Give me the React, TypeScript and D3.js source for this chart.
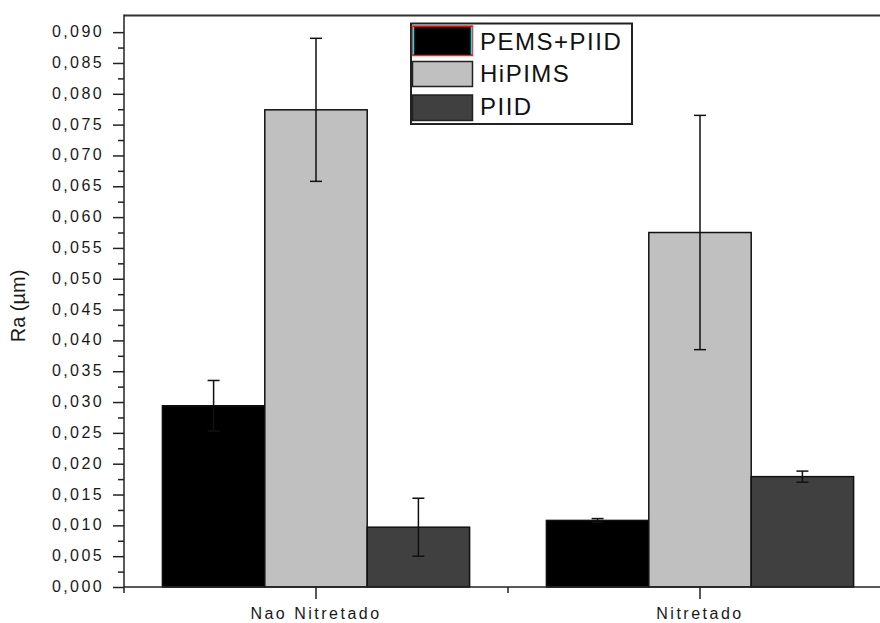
import React, { useEffect, useRef } from 'react'
import * as d3 from 'd3'

const categories = ['Nao Nitretado', 'Nitretado']
const seriesNames = ['PEMS+PIID', 'HiPIMS', 'PIID']
const pemsPiid = [0.0294, 0.0108]
const pemsPiidErr = [0.0041, 0.0003]
const hipims = [0.0774, 0.0575]
const hipimsErr = [0.0116, 0.019]
const piid = [0.0097, 0.0179]
const piidErr = [0.0047, 0.0009]
const yTicks = [0, 0.005, 0.01, 0.015, 0.02, 0.025, 0.03, 0.035, 0.04, 0.045, 0.05, 0.055, 0.06, 0.065, 0.07, 0.075, 0.08, 0.085, 0.09]

const fills = ['#000000', '#c0c0c0', '#404040']

export default function App() {
  const ref = useRef<SVGSVGElement | null>(null)

  useEffect(() => {
    document.body.style.margin = '0'
    const el = ref.current
    if (!el) return
    const svg = d3.select(el)
    svg.selectAll('*').remove()

    const W = 880, H = 623
    const left = 124, top = 15.5, bottom = 587, right = 892
    const font = 'Arial, "Liberation Sans", sans-serif'

    const x = d3.scaleBand().domain(categories).range([left, right]).paddingInner(0.2).paddingOuter(0.1)
    const xs = d3.scaleBand().domain(seriesNames).range([0, x.bandwidth()])
    const y = d3.scaleLinear().domain([0, 0.0927]).range([bottom, top])

    const values = [pemsPiid, hipims, piid]
    const errs = [pemsPiidErr, hipimsErr, piidErr]
    const rows = seriesNames.flatMap((s, si) => categories.map((c, ci) => ({ s, si, c, v: values[si][ci], e: errs[si][ci] })))

    const g = svg.append('g')
    g.selectAll('rect.bar').data(rows).enter().append('rect')
      .attr('x', d => (x(d.c) as number) + (xs(d.s) as number))
      .attr('y', d => y(d.v))
      .attr('width', xs.bandwidth())
      .attr('height', d => y(0) - y(d.v))
      .attr('fill', d => fills[d.si])
      .attr('stroke', '#111').attr('stroke-width', 1.5)

    // error bars
    const eb = g.selectAll('g.err').data(rows).enter().append('g')
    const cx = (d: any) => (x(d.c) as number) + (xs(d.s) as number) + xs.bandwidth() / 2
    eb.append('line').attr('x1', cx).attr('x2', cx)
      .attr('y1', d => y(d.v + d.e)).attr('y2', d => y(d.v - d.e))
      .attr('stroke', '#111').attr('stroke-width', 1.5)
    eb.append('line').attr('x1', d => cx(d) - 6).attr('x2', d => cx(d) + 6)
      .attr('y1', d => y(d.v + d.e)).attr('y2', d => y(d.v + d.e))
      .attr('stroke', '#111').attr('stroke-width', 1.5)
    eb.append('line').attr('x1', d => cx(d) - 6).attr('x2', d => cx(d) + 6)
      .attr('y1', d => y(d.v - d.e)).attr('y2', d => y(d.v - d.e))
      .attr('stroke', '#111').attr('stroke-width', 1.5)

    // top frame line
    svg.append('line').attr('x1', left).attr('x2', W).attr('y1', top).attr('y2', top)
      .attr('stroke', '#333').attr('stroke-width', 2)

    // y axis
    const fmt = (v: number) => d3.format('.3f')(v).replace('.', ',')
    const ay = svg.append('g').attr('transform', `translate(${left},0)`)
      .call(d3.axisLeft(y).tickValues(yTicks).tickFormat(fmt as any).tickSize(11).tickSizeOuter(0))
    ay.select('.domain').remove()
    ay.selectAll('line').attr('stroke', '#222').attr('stroke-width', 1.5)
    ay.selectAll('text').attr('font-family', font).attr('font-size', 16).attr('fill', '#1a1a1a')
      .attr('letter-spacing', 2.4).attr('x', -20).attr('dy', '0.28em')
    const minorY = yTicks.slice(0, -1).map(t => t + 0.0025)
    const ayMinor = svg.append('g').attr('transform', `translate(${left},0)`)
      .call(d3.axisLeft(y).tickValues(minorY).tickFormat(() => '').tickSize(6).tickSizeOuter(0))
    ayMinor.select('.domain').remove()
    ayMinor.selectAll('line').attr('stroke', '#222').attr('stroke-width', 1.5)
    svg.append('line').attr('x1', left).attr('x2', left).attr('y1', top - 1).attr('y2', bottom + 6)
      .attr('stroke', '#222').attr('stroke-width', 1.5)

    // x axis
    const ax = svg.append('g').attr('transform', `translate(0,${bottom})`)
      .call(d3.axisBottom(x).tickSize(12).tickSizeOuter(0))
    ax.select('.domain').remove()
    ax.selectAll('line').attr('stroke', '#222').attr('stroke-width', 1.5)
    ax.selectAll('text').attr('font-family', font).attr('font-size', 16).attr('fill', '#1a1a1a')
      .attr('letter-spacing', 2.5).attr('y', 21).attr('dy', '0.71em')
    const mid = ((x(categories[0]) as number) + (x(categories[1]) as number) + x.bandwidth()) / 2
    svg.append('line').attr('x1', mid).attr('x2', mid).attr('y1', bottom).attr('y2', bottom + 6)
      .attr('stroke', '#222').attr('stroke-width', 1.5)
    svg.append('line').attr('x1', left).attr('x2', W).attr('y1', bottom).attr('y2', bottom)
      .attr('stroke', '#222').attr('stroke-width', 1.5)

    // y label
    svg.append('text').attr('transform', `translate(25,306) rotate(-90)`)
      .attr('text-anchor', 'middle').attr('font-family', font).attr('font-size', 20)
      .attr('fill', '#1a1a1a').text('Ra (\u00b5m)')

    // legend
    const lg = svg.append('g')
    lg.append('rect').attr('x', 411).attr('y', 23.5).attr('width', 221).attr('height', 100.5)
      .attr('fill', 'white').attr('stroke', '#222').attr('stroke-width', 2)
    const rowY = [26, 61.5, 95]
    const rowH = [29.5, 25, 25.5]
    const baseY = [50, 81.5, 115]
    seriesNames.forEach((s, i) => {
      lg.append('rect').attr('x', 412.5).attr('y', rowY[i]).attr('width', 60).attr('height', rowH[i])
        .attr('fill', fills[i]).attr('stroke', i === 0 ? '#ff2020' : '#222').attr('stroke-width', 1.5)
      if (i === 0) {
        lg.append('line').attr('x1', 413.5).attr('x2', 413.5).attr('y1', rowY[i] + 1).attr('y2', rowY[i] + rowH[i] - 1)
          .attr('stroke', '#00e5ee').attr('stroke-width', 1.5)
        lg.append('line').attr('x1', 471.5).attr('x2', 471.5).attr('y1', rowY[i] + 1).attr('y2', rowY[i] + rowH[i] - 1)
          .attr('stroke', '#00e5ee').attr('stroke-width', 1.5)
      }
      lg.append('text').attr('x', 480).attr('y', baseY[i]).attr('font-family', font).attr('font-size', 24)
        .attr('letter-spacing', 1.5).attr('fill', '#111').text(s)
    })
  }, [])

  return <svg ref={ref} width={880} height={623} style={{ display: 'block', background: 'white' }} />
}
